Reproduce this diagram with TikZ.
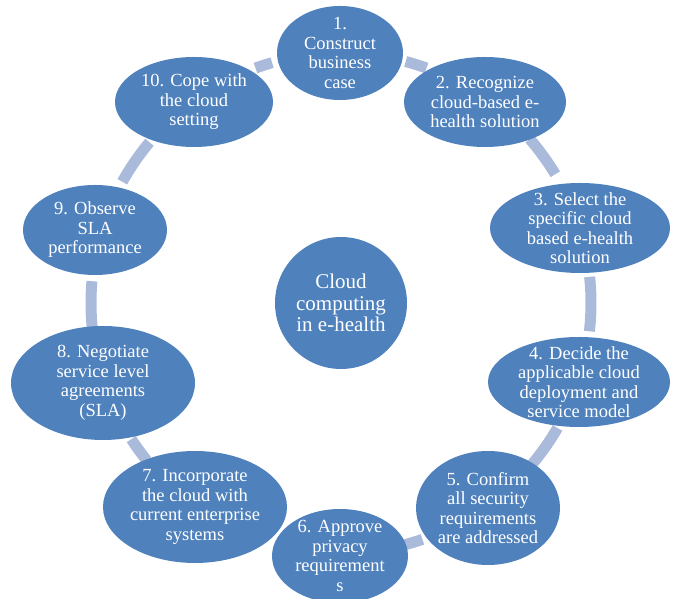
\documentclass[tikz,border=0pt]{standalone}
\usepackage{fontspec}
\setmainfont{Liberation Serif}
\usetikzlibrary{shapes.geometric}
\definecolor{nodeblue}{RGB}{79,129,189}
\definecolor{connblue}{RGB}{170,186,218}
\begin{document}
\begin{tikzpicture}[x=1pt,y=1pt,
  blob/.style={ellipse, fill=nodeblue, draw=none, inner sep=0pt},
  lbl/.style={text=white, align=center, font=\fontsize{18.5}{19.5}\selectfont, inner sep=0pt},
  clbl/.style={text=white, align=center, font=\fontsize{21}{21.5}\selectfont, inner sep=0pt},
  conn/.style={draw=connblue, line width=11pt, line cap=butt}]
\useasboundingbox (0,0) rectangle (675,599);
% centre
\node[blob, circle, minimum size=132pt] (c) at (341,296) {};
% connectors (arcs of the cycle around the centre)
\draw[conn] ([shift={(75:250pt)}]c.center) arc[start angle=75, end angle=70, radius=250pt];
\draw[conn] ([shift={(41:250pt)}]c.center) arc[start angle=41, end angle=31, radius=250pt];
\draw[conn] ([shift={(6:250pt)}]c.center) arc[start angle=6, end angle=-6.5, radius=250pt];
\draw[conn] ([shift={(-30:250pt)}]c.center) arc[start angle=-30, end angle=-41, radius=250pt];
\draw[conn] ([shift={(-71:250pt)}]c.center) arc[start angle=-71, end angle=-76, radius=250pt];
\draw[conn] ([shift={(213:250pt)}]c.center) arc[start angle=213, end angle=219, radius=250pt];
\draw[conn] ([shift={(175:250pt)}]c.center) arc[start angle=175, end angle=186, radius=250pt];
\draw[conn] ([shift={(140:250pt)}]c.center) arc[start angle=140, end angle=151, radius=250pt];
\draw[conn] ([shift={(106:250pt)}]c.center) arc[start angle=106, end angle=110, radius=250pt];
% ellipses
\node[blob, minimum width=126pt, minimum height=94pt] (n1) at (340,546) {};
\node[blob, minimum width=162pt, minimum height=90pt] (n2) at (485,497) {};
\node[blob, minimum width=180pt, minimum height=90pt] (n3) at (580,371) {};
\node[blob, minimum width=182pt, minimum height=90pt] (n4) at (579,217) {};
\node[blob, minimum width=144pt, minimum height=114pt] (n5) at (488,91) {};
\node[blob, minimum width=184pt, minimum height=112pt] (n7) at (195,92) {};
\node[blob, minimum width=136pt, minimum height=94pt] (n6) at (340,43) {};
\node[blob, minimum width=184pt, minimum height=114pt] (n8) at (103,216) {};
\node[blob, minimum width=144pt, minimum height=90pt] (n9) at (95,369) {};
\node[blob, minimum width=158pt, minimum height=90pt] (n10) at (194,497) {};
% labels
\node[clbl] (tc) at (c) {Cloud\\computing\\in e-health};
\node[lbl] (t1) at (n1) {1.\\Construct\\business\\case};
\node[lbl] (t2) at (n2) {2. Recognize\\cloud-based e-\\health solution};
\node[lbl] (t3) at (n3) {3. Select the\\specific cloud\\based e-health\\solution};
\node[lbl] (t4) at (n4) {4. Decide the\\applicable cloud\\deployment and\\service model};
\node[lbl] (t5) at (n5) {5. Confirm\\all security\\requirements\\are addressed};
\node[lbl] (t6) at (n6) {6. Approve\\privacy\\requirement\\s};
\node[lbl] (t7) at (n7) {7. Incorporate\\the cloud with\\current enterprise\\systems};
\node[lbl] (t8) at (n8) {8. Negotiate\\service level\\agreements\\(SLA)};
\node[lbl] (t9) at (n9) {9. Observe\\SLA\\performance};
\node[lbl] (t10) at (n10) {10. Cope with\\the cloud\\setting};
\end{tikzpicture}
\end{document}
